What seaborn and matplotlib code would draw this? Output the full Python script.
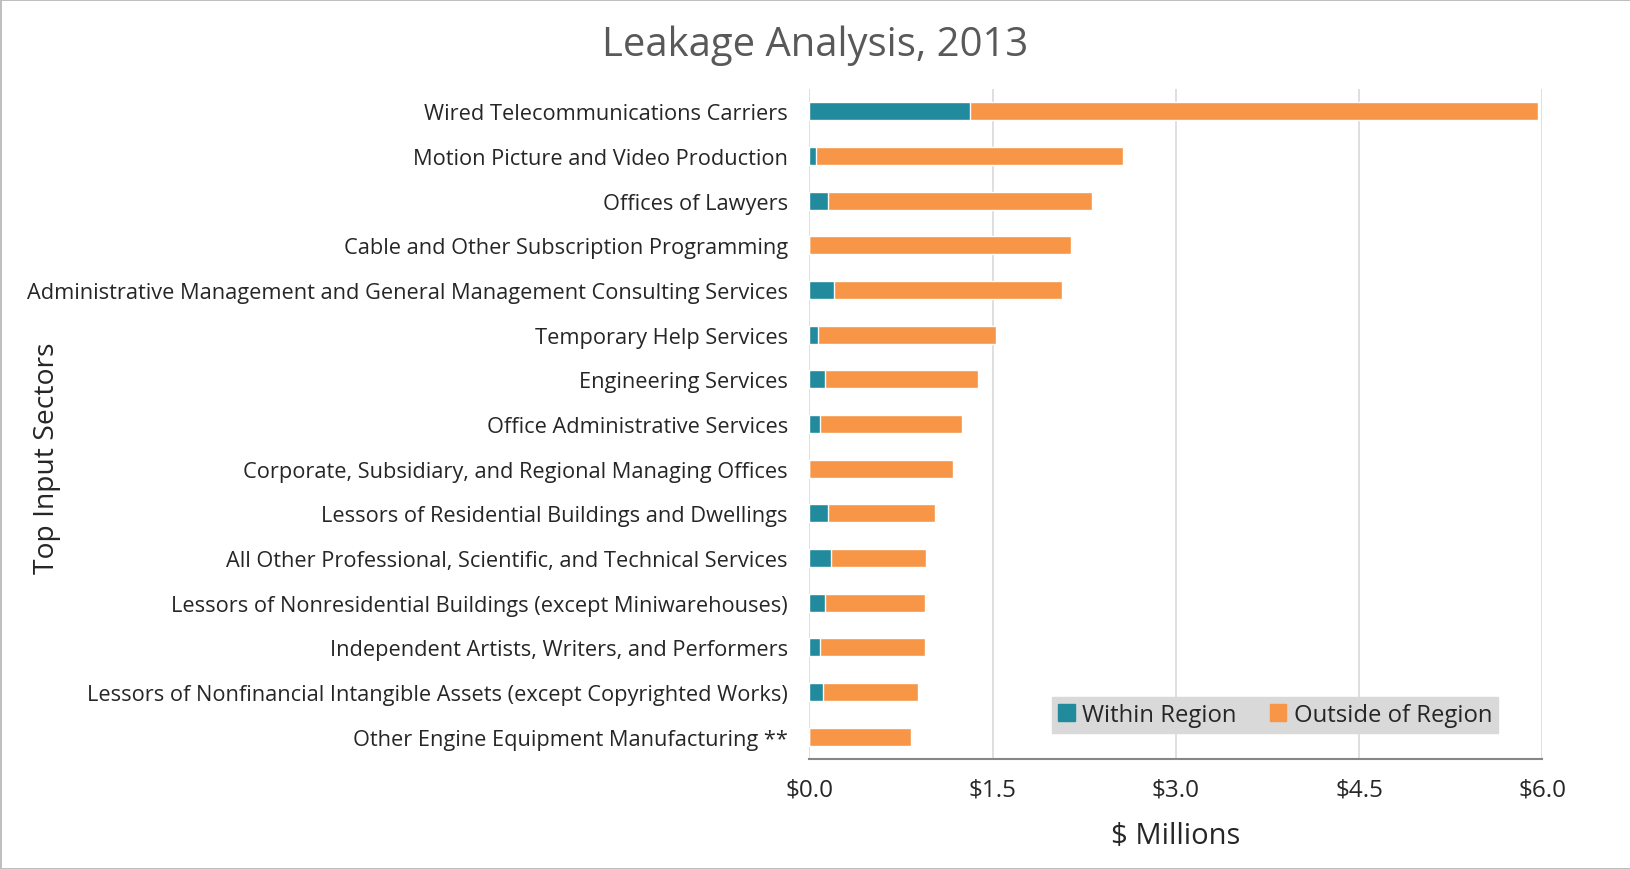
import matplotlib
matplotlib.use("Agg")
import matplotlib.pyplot as plt
from matplotlib.patches import Patch
import pandas as pd
import seaborn as sns

sectors = [
    "Wired Telecommunications Carriers",
    "Motion Picture and Video Production",
    "Offices of Lawyers",
    "Cable and Other Subscription Programming",
    "Administrative Management and General Management Consulting Services",
    "Temporary Help Services",
    "Engineering Services",
    "Office Administrative Services",
    "Corporate, Subsidiary, and Regional Managing Offices",
    "Lessors of Residential Buildings and Dwellings",
    "All Other Professional, Scientific, and Technical Services",
    "Lessors of Nonresidential Buildings (except Miniwarehouses)",
    "Independent Artists, Writers, and Performers",
    "Lessors of Nonfinancial Intangible Assets (except Copyrighted Works)",
    "Other Engine Equipment Manufacturing **",
]
within = [1.31, 0.05, 0.15, 0.0, 0.20, 0.07, 0.13, 0.085, 0.0, 0.15, 0.175, 0.126, 0.085, 0.112, 0.0]
outside = [4.65, 2.52, 2.16, 2.14, 1.865, 1.46, 1.25, 1.165, 1.177, 0.88, 0.78, 0.821, 0.862, 0.775, 0.833]
xticks = [0.0, 1.5, 3.0, 4.5, 6.0]

teal = "#218B9D"
orange = "#F79646"

df = pd.DataFrame({"sector": sectors, "within": within, "outside": outside})
df["total"] = df["within"] + df["outside"]

sns.set_style("white")
plt.rcParams["font.family"] = ["Open Sans", "DejaVu Sans"]

fig = plt.figure(figsize=(16.31, 8.7), dpi=100)
fig.patch.set_edgecolor("#BFBFBF")
fig.patch.set_linewidth(2)
ax = fig.add_axes([809.5 / 1631, 1 - 760 / 870, 733 / 1631, 670 / 870])

# stacked: draw the total in orange, then the within part on top in teal
sns.barplot(data=df, x="total", y="sector", color=orange, width=0.4,
            saturation=1, ax=ax, zorder=2)
sns.barplot(data=df, x="within", y="sector", color=teal, width=0.4,
            saturation=1, ax=ax, zorder=3)

ax.set_xlim(0, 6)
ax.set_ylim(14.5, -0.5)
ax.set_xticks(xticks)
ax.set_xticklabels(["$%.1f" % v for v in xticks], fontsize=17.5)
ax.tick_params(axis="x", length=6, width=1.2, color="#868686", pad=7)
ax.tick_params(axis="y", length=0, pad=15.5, labelsize=15.7)
ax.grid(axis="x", color="#D9D9D9", linewidth=1.2, zorder=0)
ax.set_axisbelow(True)
for s in ["top", "right", "left"]:
    ax.spines[s].set_visible(False)
ax.spines["bottom"].set_color("#868686")
ax.spines["bottom"].set_linewidth(1.5)
ax.set_xlabel("$ Millions", fontsize=21, labelpad=14)
ax.set_ylabel("")

fig.text(815 / 1631, 1 - 46 / 870, "Leakage Analysis, 2013", fontsize=28.8,
         color="#595959", ha="center", va="center")
fig.text(47 / 1631, 1 - 458 / 870, "Top Input Sectors", fontsize=20.3,
         rotation=90, ha="center", va="center")

handles = [Patch(color=teal, label="Within Region"),
           Patch(color=orange, label="Outside of Region")]
leg = ax.legend(handles=handles, ncol=2, loc="center",
                bbox_to_anchor=((1275 - 809.5) / 733, (760 - 716) / 670),
                fontsize=17.2, frameon=True, fancybox=False,
                facecolor="#D9D9D9", edgecolor="#D9D9D9", framealpha=1,
                handlelength=0.7, handleheight=0.7, handletextpad=0.3,
                columnspacing=1.4, borderpad=0.25)

fig.savefig("out.png", dpi=100)
